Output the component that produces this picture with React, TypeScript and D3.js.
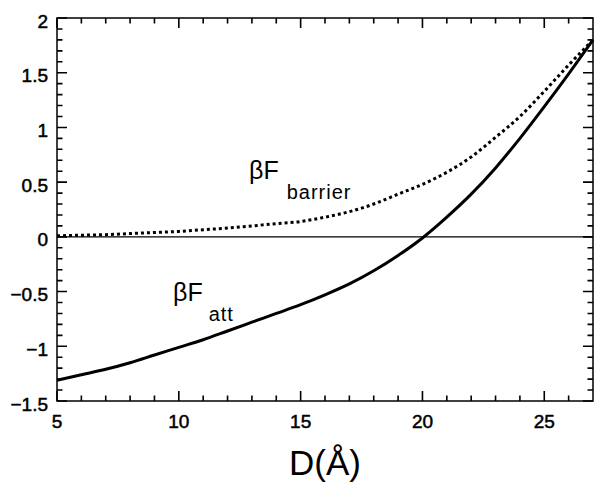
import React, { useRef, useEffect } from 'react';
import * as d3 from 'd3';

// separation D in Angstrom
const distances = [5, 6, 7, 8, 9, 10, 11, 12, 13, 14, 15, 16, 17, 18, 19, 20, 21, 22, 23, 24, 25, 26, 27];

// beta*F attractive (solid)
const fAtt = [-1.31, -1.26, -1.21, -1.15, -1.08, -1.01, -0.94, -0.86, -0.78, -0.7, -0.62, -0.53, -0.43, -0.31, -0.17, -0.01, 0.18, 0.39, 0.63, 0.9, 1.19, 1.49, 1.8];

// beta*F barrier (dotted)
const fBarrier = [0.01, 0.015, 0.02, 0.03, 0.04, 0.05, 0.065, 0.08, 0.1, 0.12, 0.14, 0.18, 0.23, 0.3, 0.39, 0.48, 0.59, 0.73, 0.91, 1.1, 1.33, 1.57, 1.8];

const xMajor = [5, 10, 15, 20, 25];
const xMinor = [6, 7, 8, 9, 11, 12, 13, 14, 16, 17, 18, 19, 21, 22, 23, 24, 26];
const yMajor = [-1.5, -1, -0.5, 0, 0.5, 1, 1.5, 2];
const yMinor = [-1.4, -1.3, -1.2, -1.1, -0.9, -0.8, -0.7, -0.6, -0.4, -0.3, -0.2, -0.1,
  0.1, 0.2, 0.3, 0.4, 0.6, 0.7, 0.8, 0.9, 1.1, 1.2, 1.3, 1.4, 1.6, 1.7, 1.8, 1.9];

const width = 600;
const height = 485;
const margin = { top: 18, right: 7, bottom: 84, left: 57 };
const font = '"Liberation Sans", Arial, Helvetica, sans-serif';

const App = () => {
  const ref = useRef<SVGSVGElement>(null);

  useEffect(() => {
    const svg = d3.select(ref.current);
    svg.selectAll('*').remove();

    const innerWidth = width - margin.left - margin.right;
    const innerHeight = height - margin.top - margin.bottom;

    const x = d3.scaleLinear().domain([5, 27]).range([0, innerWidth]);
    const y = d3.scaleLinear().domain([-1.5, 2]).range([innerHeight, 0]);

    const g = svg.append('g').attr('transform', `translate(${margin.left},${margin.top})`);

    // frame
    g.append('rect')
      .attr('width', innerWidth)
      .attr('height', innerHeight)
      .attr('fill', 'none')
      .attr('stroke', '#000')
      .attr('stroke-width', 1.5);

    // inward ticks on all four sides, built as one path
    const p = d3.path();
    const xTicks = [...xMajor.map(v => [v, 10]), ...xMinor.map(v => [v, 5.5])];
    const yTicks = [...yMajor.map(v => [v, 10]), ...yMinor.map(v => [v, 5.5])];
    xTicks.forEach(([v, len]) => {
      p.moveTo(x(v), innerHeight); p.lineTo(x(v), innerHeight - len);
      p.moveTo(x(v), 0); p.lineTo(x(v), len);
    });
    yTicks.forEach(([v, len]) => {
      p.moveTo(0, y(v)); p.lineTo(len, y(v));
      p.moveTo(innerWidth, y(v)); p.lineTo(innerWidth - len, y(v));
    });
    g.append('path')
      .attr('d', p.toString())
      .attr('fill', 'none')
      .attr('stroke', '#000')
      .attr('stroke-width', 1.6);

    // tick labels
    g.append('g').selectAll('text').data(xMajor).join('text')
      .attr('x', d => x(d))
      .attr('y', innerHeight + 27)
      .attr('text-anchor', 'middle')
      .attr('font-family', font)
      .attr('font-size', 19)
      .attr('fill', '#000')
      .attr('stroke', '#000')
      .attr('stroke-width', 0.5)
      .text(d => d3.format('')(d));

    g.append('g').selectAll('text').data(yMajor).join('text')
      .attr('x', -9)
      .attr('y', d => y(d))
      .attr('dy', '0.5em')
      .attr('text-anchor', 'end')
      .attr('font-family', font)
      .attr('font-size', 19)
      .attr('fill', '#000')
      .attr('stroke', '#000')
      .attr('stroke-width', 0.5)
      .text(d => d3.format('')(d));

    // zero line
    g.append('line')
      .attr('x1', 0)
      .attr('x2', innerWidth)
      .attr('y1', y(0))
      .attr('y2', y(0))
      .attr('stroke', '#000')
      .attr('stroke-width', 1.2);

    const line = d3.line<number>()
      .x((d, i) => x(distances[i]))
      .y(d => y(d))
      .curve(d3.curveMonotoneX);

    g.append('path')
      .datum(fBarrier)
      .attr('fill', 'none')
      .attr('stroke', '#000')
      .attr('stroke-width', 3)
      .attr('stroke-dasharray', '3,3')
      .attr('d', line);

    g.append('path')
      .datum(fAtt)
      .attr('fill', 'none')
      .attr('stroke', '#000')
      .attr('stroke-width', 3)
      .attr('d', line);

    // curve labels
    const label = (px, py, main, sub, gap) => {
      const t = svg.append('text')
        .attr('x', px)
        .attr('y', py)
        .attr('font-family', font)
        .attr('fill', '#000');
      t.append('tspan').attr('font-size', 25).text(main);
      t.append('tspan')
        .attr('font-size', 20)
        .attr('dx', gap)
        .attr('dy', 20)
        .attr('letter-spacing', 1)
        .text(sub);
    };
    label(249, 179, 'βF', 'barrier', 8);
    label(173, 301, 'βF', 'att', 6);

    // axis title
    svg.append('text')
      .attr('x', margin.left + innerWidth / 2)
      .attr('y', 475)
      .attr('text-anchor', 'middle')
      .attr('font-family', font)
      .attr('font-size', 35)
      .attr('fill', '#000')
      .text('D(Å)');
  }, []);

  return (
    <svg ref={ref} width={width} height={height}
      style={{ position: 'absolute', left: 0, top: 0, background: '#fff' }} />
  );
};

export default App;
